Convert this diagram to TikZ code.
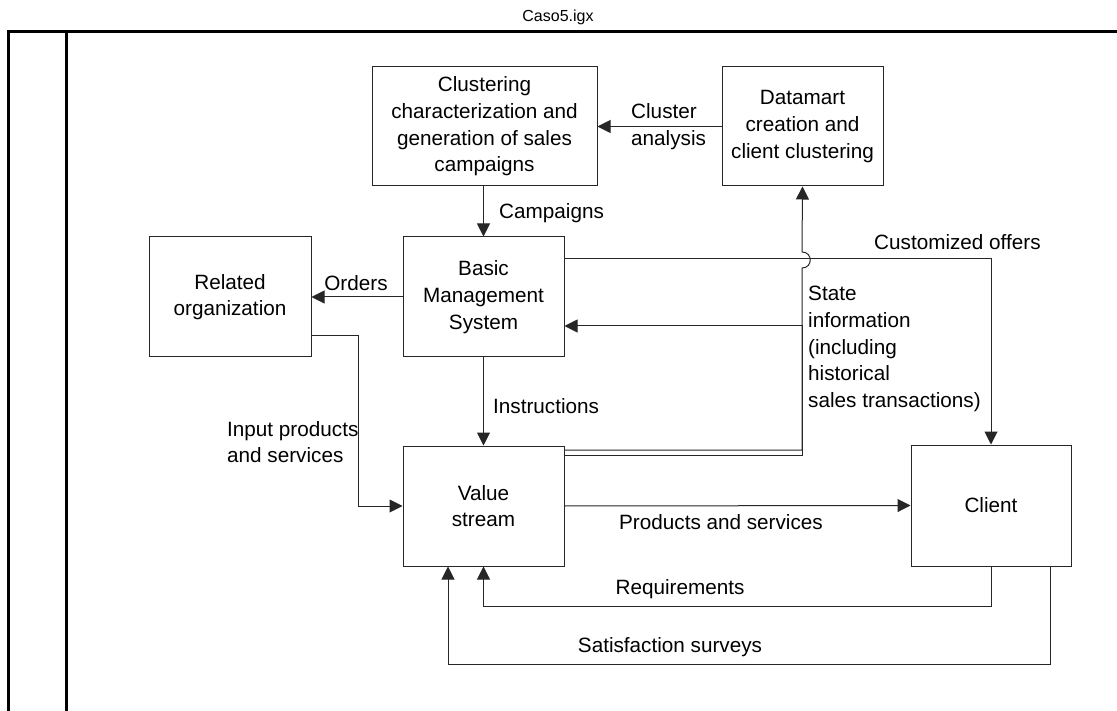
\documentclass[tikz,border=0pt]{standalone}
\usepackage{fontspec}
\setmainfont{Liberation Sans}
\usetikzlibrary{arrows.meta}
\begin{document}
\begin{tikzpicture}[x=1pt,y=-1pt,
  box/.style={draw=black!85,line width=1pt,rectangle,align=center,inner sep=0pt,
    font=\fontsize{20.7pt}{26.7pt}\selectfont},
  lbl/.style={align=left,inner sep=0pt,font=\fontsize{20.7pt}{26.7pt}\selectfont},
  conn/.style={draw=black!85,line width=1pt},
  arr/.style={conn,-{Triangle[length=13pt,width=13pt]}},
  frame/.style={line width=3pt,black}]
\useasboundingbox (0,0) rectangle (1117,711);
% frame
\draw[frame] (8.5,711) -- (8.5,32) -- (1117,32);
\draw[frame] (66,32) -- (66,711);
\node[font=\fontsize{16pt}{19pt}\selectfont] (title) at (558,17) {Caso5.igx};
% boxes
\node[box,minimum width=225pt,minimum height=119pt] (clu) at (484.5,126.5)
  {Clustering\\characterization and\\generation of sales\\campaigns};
\node[box,minimum width=161pt,minimum height=119pt] (dm) at (802.5,126.5)
  {Datamart\\creation and\\client clustering};
\node[box,minimum width=162pt,minimum height=120pt] (ro) at (230,297)
  {Related\\organization};
\node[box,minimum width=161pt,minimum height=120pt] (bms) at (483.5,297)
  {Basic\\Management\\System};
\node[box,minimum width=161pt,minimum height=120pt] (vs) at (483.5,506)
  {Value\\stream};
\node[box,minimum width=160pt,minimum height=121pt] (cl) at (991,505.5)
  {Client};
% coordinates
\coordinate (c1) at (802,450);
\coordinate (j1) at (802,268);
\coordinate (j2) at (802,252);
\coordinate (c2) at (802,455);
\coordinate (c3) at (802,326);
\coordinate (r1) at (358,336);
\coordinate (r2) at (358,506);
\coordinate (q1) at (991,606);
\coordinate (s1) at (1050,664);
% connectors
\draw[arr] (dm.west) -- (clu.east);
\draw[arr] (bms.north |- clu.south) -- (bms.north);
\draw[arr] (bms.west) -- (ro.east);
\draw[arr] (bms.south) -- (vs.north);
\draw[arr] ([yshift=38pt]bms.east) -| (cl.north);
\draw[arr] ([yshift=56pt]vs.east) -- (c1) -- (j1) .. controls (813,268) and (813,252) .. (j2) -- (dm.south);
\draw[arr] ([yshift=51pt]vs.east) -- (c2) -- (c3) -- ([yshift=-29pt]bms.east);
\draw[arr] ([yshift=-39pt]ro.east) -- (r1) -- (r2) -- (vs.west);
\draw[arr] (vs.east) -- (cl.west);
\draw[arr] (cl.south) -- (q1) -| (vs.south);
\draw[arr] ([xshift=59pt]cl.south) |- (s1) -| ([xshift=-35.5pt]vs.south);
% labels
\node[lbl,anchor=west] (l1) at (631,127) {Cluster\\analysis};
\node[lbl,anchor=west] (l2) at (499,213) {Campaigns};
\node[lbl] (l3) at (356,283) {Orders};
\node[lbl,anchor=west] (l4) at (874,242) {Customized offers};
\node[lbl,anchor=west] (l5) at (808,349) {State\\information\\(including\\historical\\sales transactions)};
\node[lbl,anchor=west] (l6) at (493,406) {Instructions};
\node[lbl,anchor=west] (l7) at (227,442) {Input products\\and services};
\node[lbl] (l8) at (721,522) {Products and services};
\node[lbl] (l9) at (680,589) {Requirements};
\node[lbl] (l10) at (670,647) {Satisfaction surveys};
\end{tikzpicture}
\end{document}
